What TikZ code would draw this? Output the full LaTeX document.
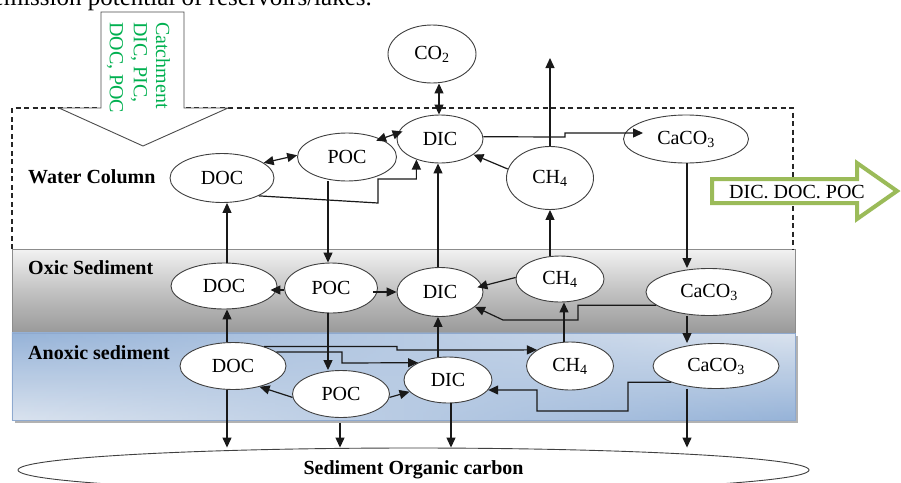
\documentclass[tikz,border=0pt]{standalone}
\usepackage{fontspec}
\setmainfont{Liberation Serif}
\usetikzlibrary{shapes.geometric,arrows.meta,fadings,calc}
\definecolor{catchgreen}{HTML}{00B050}
\definecolor{exportgreen}{HTML}{9BBB59}
\definecolor{oxtop}{HTML}{F2F2F2}
\definecolor{oxmid}{HTML}{C2C2C2}
\definecolor{oxbot}{HTML}{999999}
\definecolor{anlight}{HTML}{DAE3EF}
\definecolor{andark}{HTML}{96B3D8}
\definecolor{ellline}{HTML}{404040}
\definecolor{bandline}{HTML}{8C8C8C}
\definecolor{anline}{HTML}{8EA9CF}
\begin{document}
\begin{tikzpicture}[x=1pt,y=-1pt,
  every node/.style={font=\fontsize{20}{24}\selectfont},
  ell/.style={ellipse, draw=ellline, line width=0.9pt, fill=white, inner sep=0pt},
  conn/.style={line width=1.2pt, draw=black!90, -{Triangle[length=10pt,width=9pt]}},
  dbl/.style={line width=1.2pt, draw=black!90, {Triangle[length=10pt,width=9pt]}-{Triangle[length=10pt,width=9pt]}},
  zone/.style={font=\bfseries\fontsize{20}{24}\selectfont, anchor=west, inner sep=0pt},
  boxdash/.style={line width=1.4pt, draw=black!85, dash pattern=on 5pt off 3.5pt}
]
\useasboundingbox (0,0) rectangle (901,482);
\clip (0,0) rectangle (901,482);
\fill[white] (0,0) rectangle (901,482);

% caption fragment
\node[anchor=base east, inner sep=0pt, font=\fontsize{25}{30}\selectfont] (caption) at (372,5) {emission potential of reservoirs/lakes.};

% sediment bands
\fill[black!30] (15,336) rectangle (798,423);
\shade[top color=oxtop, bottom color=oxbot, middle color=oxmid] (12,249) rectangle (795,333);
\draw[bandline, line width=0.9pt] (12,333) -- (12,249) -- (795,249) -- (795,333);
\shade[top color=anlight, bottom color=andark] (12,333) rectangle (795,420);
\shade[top color=andark, bottom color=anlight, path fading=east] (12,333) rectangle (795,420);
\draw[anline, line width=0.9pt] (12,333) rectangle (795,420);

% water column dashed box
\draw[boxdash] (12,249) -- (12,108) -- (793,108) -- (793,249);

% catchment arrow
\draw[draw=black!70, line width=0.9pt, fill=white, line join=miter]
  (101,12) -- (184,12) -- (184,108) -- (228,108) -- (143,146) -- (59,108) -- (101,108) -- cycle;
\node[rotate=-90, anchor=west, inner sep=0pt, text=catchgreen] (catch1) at (163,22) {Catchment};
\node[rotate=-90, anchor=west, inner sep=0pt, text=catchgreen] (catch2) at (139,22) {DIC, PIC,};
\node[rotate=-90, anchor=west, inner sep=0pt, text=catchgreen] (catch3) at (115,22) {DOC, POC};

% export arrow
\draw[exportgreen, line width=4pt, fill=white, line join=miter]
  (712,179) -- (857,179) -- (857,163) -- (897,191) -- (857,219) -- (857,203) -- (712,203) -- cycle;
\node (export) at (797,192) {DIC. DOC. POC};

% zone labels
\node[zone] (lwater) at (28,177) {Water Column};
\node[zone] (loxic) at (28,268) {Oxic Sediment};
\node[zone] (lanoxic) at (28,353) {Anoxic sediment};

% nodes
\node[ell, minimum width=88pt, minimum height=58pt] (co2) at (432,54) {CO\textsubscript{2}};
\node[ell, minimum width=86pt, minimum height=48pt] (dicw) at (440,139) {DIC};
\node[ell, minimum width=99pt, minimum height=48pt] (pocw) at (347,157) {POC};
\node[ell, minimum width=104pt, minimum height=49pt] (docw) at (222,178) {DOC};
\node[ell, minimum width=87pt, minimum height=63pt] (ch4w) at (550,178) {CH\textsubscript{4}};
\node[ell, minimum width=125pt, minimum height=48pt] (cacw) at (686,139) {CaCO\textsubscript{3}};

\node[ell, minimum width=106pt, minimum height=46pt] (doco) at (224,286) {DOC};
\node[ell, minimum width=93pt, minimum height=50pt] (poco) at (331,288) {POC};
\node[ell, minimum width=86pt, minimum height=49pt] (dico) at (440,292) {DIC};
\node[ell, minimum width=88pt, minimum height=46pt] (ch4o) at (560,279) {CH\textsubscript{4}};
\node[ell, minimum width=126pt, minimum height=47pt] (caco) at (709,292) {CaCO\textsubscript{3}};

\node[ell, minimum width=106pt, minimum height=47pt] (doca) at (233,366) {DOC};
\node[ell, minimum width=97pt, minimum height=47pt] (poca) at (341,394) {POC};
\node[ell, minimum width=88pt, minimum height=46pt] (dica) at (448,380) {DIC};
\node[ell, minimum width=87pt, minimum height=48pt] (ch4a) at (570,366) {CH\textsubscript{4}};
\node[ell, minimum width=126pt, minimum height=45pt] (caca) at (716,366) {CaCO\textsubscript{3}};

\node[ell, minimum width=791pt, minimum height=44pt, font=\bfseries\fontsize{20}{24}\selectfont] (soc) at (413.5,470) {Sediment Organic carbon};

% column coordinates
\coordinate (xdoc) at (227,0);
\coordinate (xpoc) at (328,0);
\coordinate (xdic) at (438,0);
\coordinate (xch4) at (550,0);
\coordinate (xch4b) at (564,0);
\coordinate (xcac) at (687,0);
\coordinate (xpocb) at (340,0);
\coordinate (xdicb) at (451,0);
\coordinate (co2x) at (439,0);
\coordinate (ch4top) at (550,58);

% water column connectors
\draw[dbl] (dicw.north -| co2x) -- (co2.south -| co2x);
\draw[dbl, shorten <=-5pt, shorten >=-5pt] (pocw.28) -- (dicw.172);
\draw[dbl] (docw.20) -- (pocw.178);
\draw[conn] (docw.-26) -- (378,203) -- (378,179) -| (dicw.-139);
\draw[conn] (ch4w.168) -- (dicw.-25);
\draw[conn, shorten >=-20pt] (dicw.3) -- (565,137) -- (565,133) -- (cacw.west |- 0,133);
\draw[conn] (ch4w.north) -- (ch4top);
\draw[conn] (cacw.south -| xcac) -- (caco.north -| xcac);
\draw[conn] (doco.north -| xdoc) -- (docw.south -| xdoc);
\draw[conn] (pocw.south -| xpoc) -- (poco.north -| xpoc);
\draw[conn] (dico.north -| xdic) -- (dicw.south -| xdic);
\draw[conn] (ch4o.north -| xch4) -- (ch4w.south -| xch4);

% oxic connectors
\draw[conn, shorten >=-7pt] (poco.west |- 0,290) -- (doco.east |- 0,290);
\draw[conn, shorten <=-5pt] (poco.east |- dico.west) -- (dico.west);
\draw[conn, shorten >=-5pt] (ch4o.178) -- (dico.8);
\draw[conn] (caco.194) -| (578,320) -- (503,320) -- (dico.-23);
\draw[conn] (caco.south -| xcac) -- (caca.north -| xcac);
\draw[conn] (ch4a.north -| xch4b) -- (ch4o.south -| xch4b);
\draw[conn] (dica.north -| xdic) -- (dico.south -| xdic);
\draw[conn] (doca.north -| xdoc) -- (doco.south -| xdoc);
\draw[conn] (poco.south -| xpoc) -- (poca.north -| xpoc);

% anoxic connectors
\draw[conn] (doca.32) -| (397,350) -- (ch4a.154);
\draw[conn] (doca.18) -| (342,363) -- (dica.150);
\draw[conn] (poca.184) -- (doca.-38);
\draw[conn] (poca.-4) -- (dica.197);
\draw[conn] (caca.200) -| (628,411) -| (537,390) -- (dica.-14);

% to sediment organic carbon
\draw[conn] (doca.south -| xdoc) -- (soc.north -| xdoc);
\draw[conn, shorten <=5pt] (poca.south -| xpocb) -- (soc.north -| xpocb);
\draw[conn] (dica.south -| xdicb) -- (soc.north -| xdicb);
\draw[conn] (caca.south -| xcac) -- (soc.north -| xcac);
\end{tikzpicture}
\end{document}
